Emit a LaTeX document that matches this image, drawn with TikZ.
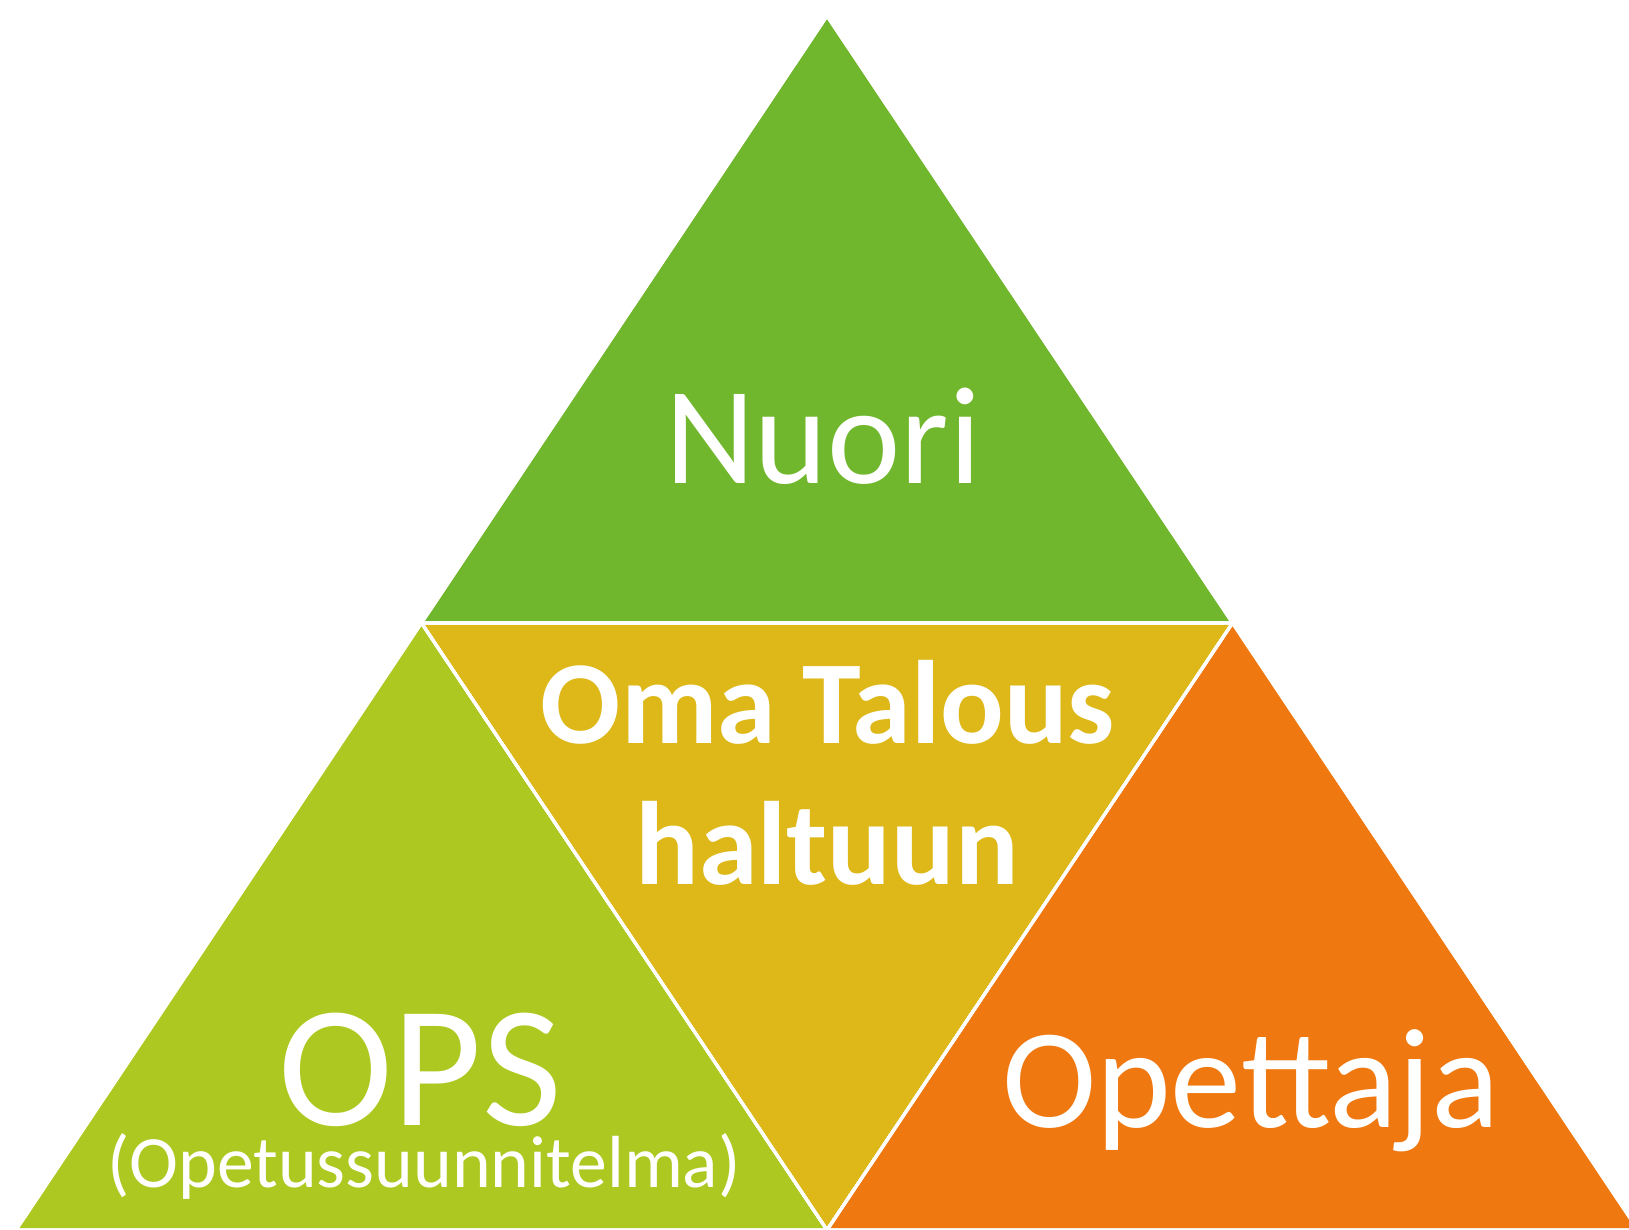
\documentclass[tikz,border=0pt]{standalone}
\usepackage{fontspec}
\setmainfont{Carlito}

\definecolor{nuorigreen}{RGB}{112,183,45}
\definecolor{opslime}{RGB}{173,201,33}
\definecolor{talousgold}{RGB}{221,184,24}
\definecolor{opettajaorange}{RGB}{239,120,16}

\tikzset{part/.style={draw=white,line width=1.8pt,line join=miter},
label big/.style={text=white,anchor=base,inner sep=0pt},
label bold/.style={text=white,anchor=base,inner sep=0pt,align=center,font=\bfseries\fontsize{67.5}{80}\selectfont}}

\begin{document}
\begin{tikzpicture}[x=0.02cm,y=0.02cm]

% The unit is one pixel of the 1629 x 1230 picture, y pointing up

\useasboundingbox (0,0) rectangle (1629,1230);
\clip (0,0) rectangle (1629,1230);

%% Coordinates of corners.
\coordinate (top) at (827,1214);
\coordinate (midl) at (421.5,607);
\coordinate (midr) at (1232.5,607);
\coordinate (botm) at (827,0);
\coordinate (botl) at (16,0);
\coordinate (botr) at (1638,0);

%% triangles
\fill [part,fill=nuorigreen] (top) -- (midl) -- (midr) -- cycle;
\fill [part,fill=opslime] (midl) -- (botl) -- (botm) -- cycle;
\fill [part,fill=talousgold] (midl) -- (midr) -- (botm) -- cycle;
\fill [part,fill=opettajaorange] (midr) -- (botm) -- (botr) -- cycle;
\draw [part] (top) -- (midl) -- (midr) -- cycle;
\draw [part] (midl) -- (botl) -- (botm) -- cycle;
\draw [part] (midl) -- (midr) -- (botm) -- cycle;
\draw [part] (midr) -- (botm) -- (botr) -- cycle;

%% labels
\node [label big,font=\fontsize{79}{90}\selectfont] (nuori) at (823,746) {Nuori};
\node [label bold] (talous1) at (828,486) {Oma Talous};
\node [label bold] (talous2) at (827,345) {haltuun};
\node [label big,text depth=0pt,font=\fontsize{98.6}{110}\selectfont] (ops) at (420,104) {OPS};
\node [label big,text height=0.5cm,font=\fontsize{42}{46}\selectfont] (opsfull) at (424,42) {(Opetussuunnitelma)};
\node [label big,font=\fontsize{81}{92}\selectfont] (opettaja) at (1251,102) {Opettaja};

\end{tikzpicture}
\end{document}
